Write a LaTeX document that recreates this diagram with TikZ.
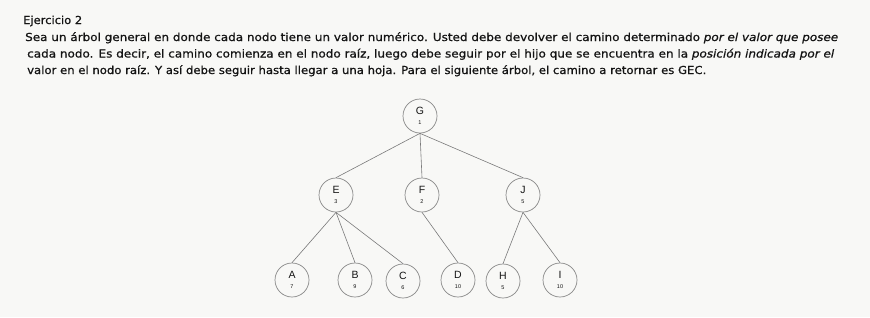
\documentclass[tikz,border=0pt]{standalone}
\usepackage{fontspec}
\usepackage{graphicx}
\setmainfont{DejaVu Sans}[UprightFeatures={FakeBold=0.7}, ItalicFeatures={FakeBold=0.7}]
\newfontfamily\nodefont{Liberation Sans}
\definecolor{paper}{HTML}{F8F8F6}
\definecolor{ink}{HTML}{141414}
\definecolor{edge}{HTML}{7A7A7A}
\definecolor{ring}{HTML}{888888}
\tikzset{
  txtline/.style={anchor=base west, inner sep=0pt, text=ink, font=\fontsize{11}{13}\selectfont},
  treenode/.style={circle, draw=ring, line width=0.7pt, minimum size=34pt, inner sep=0pt,
                   align=center, text=ink},
  branch/.style={draw=edge, line width=0.6pt},
}
% letter above, value below, inside a circle
\newcommand{\nodetext}[2]{{\nodefont\fontsize{10.5}{10.5}\selectfont #1}\\[-1.5pt]{\nodefont\fontsize{5.5}{5.5}\selectfont #2}}
\begin{document}
\begin{tikzpicture}[x=1pt,y=-1pt]
  \fill[paper] (0,0) rectangle (870,317);
  \useasboundingbox (0,0) rectangle (870,317);

  % statement
  \node[txtline] (title) at (23,24) {\resizebox{59pt}{\height}{Ejercicio 2}};
  \node[txtline] (l1) at (25,41) {\resizebox{813pt}{\height}{Sea un árbol general en donde cada nodo tiene un valor numérico. Usted debe devolver el camino determinado \textit{por el valor que posee}}};
  \node[txtline] (l2) at (27,57.5) {\resizebox{807pt}{\height}{cada nodo. Es decir, el camino comienza en el nodo raíz, luego debe seguir por el hijo que se encuentra en la \textit{posición indicada por el}}};
  \node[txtline] (l3) at (27,74) {\resizebox{679pt}{\height}{valor en el nodo raíz. Y así debe seguir hasta llegar a una hoja. Para el siguiente árbol, el camino a retornar es GEC.}};

  % tree
  \node[treenode] (G) at (420,116) {\nodetext{G}{1}};
  \node[treenode] (E) at (336,195) {\nodetext{E}{3}};
  \node[treenode] (F) at (422,195) {\nodetext{F}{2}};
  \node[treenode] (J) at (523,195) {\nodetext{J}{5}};
  \node[treenode] (A) at (292,280) {\nodetext{A}{7}};
  \node[treenode] (B) at (355,280) {\nodetext{B}{9}};
  \node[treenode] (C) at (403,281) {\nodetext{C}{6}};
  \node[treenode] (D) at (458,280) {\nodetext{D}{10}};
  \node[treenode] (H) at (503,281) {\nodetext{H}{5}};
  \node[treenode] (I) at (560,280) {\nodetext{I}{10}};

  \draw[branch] (G.south) -- (E.north);
  \draw[branch] (G.south) -- (F.north);
  \draw[branch] (G.south) -- (J.north);
  \draw[branch] (E.south) -- (A.north);
  \draw[branch] (E.south) -- (B.north);
  \draw[branch] (E.south) -- (C.north);
  \draw[branch] (F.south) -- (D.north);
  \draw[branch] (J.south) -- (H.north);
  \draw[branch] (J.south) -- (I.north);
\end{tikzpicture}
\end{document}
